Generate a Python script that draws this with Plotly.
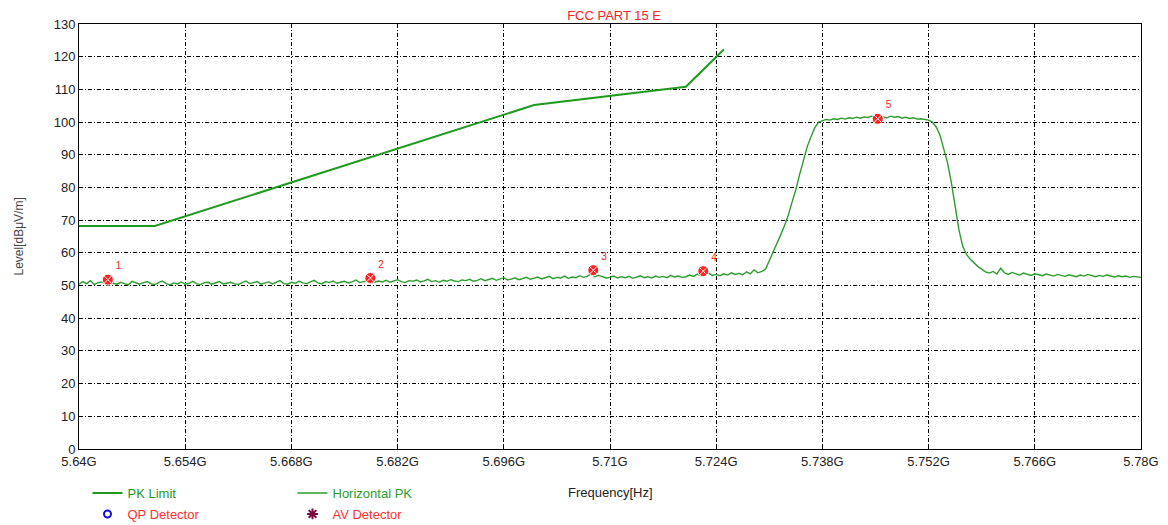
import plotly.graph_objects as go

# ---- data ----
limit_freq = [5.640, 5.650, 5.700, 5.720, 5.725]          # GHz
limit_level = [68.2, 68.2, 105.2, 110.8, 122.2]           # dBuV/m

sweep_start = 5.640
sweep_step = 0.0005
trace_level = [
    # 5.640
    50.4, 51.2, 50.6, 51.5, 50.3, 50.9, 51.1, 50.5, 51.8, 50.7, 50.4, 51.0, 50.6, 50.2, 51.3, 50.8, 50.4, 50.9, 51.2, 50.5,
    # 5.650
    50.3, 50.9, 51.4, 50.6, 50.2, 50.8, 50.5, 51.1, 50.4, 50.7, 51.3, 50.6, 50.3, 50.9, 51.0, 50.4, 50.7, 51.2, 50.5, 50.8,
    # 5.660
    51.0, 50.5, 50.3, 50.9, 51.4, 50.6, 50.8, 51.2, 50.4, 50.7, 51.1, 50.5, 50.9, 51.5, 50.6, 50.4, 51.0, 50.7, 51.3, 50.8,
    # 5.670
    50.6, 51.1, 51.6, 50.8, 50.5, 51.2, 50.9, 51.4, 50.7, 51.0, 51.3, 50.8, 51.1, 51.7, 50.9, 51.2, 51.5, 50.8, 51.0, 51.4,
    # 5.680
    51.1, 51.6, 51.0, 51.3, 51.8, 51.2, 50.9, 51.5, 51.3, 51.7, 51.1, 51.4, 51.9, 51.2, 51.5, 51.0, 51.6, 51.3, 51.8, 51.4,
    # 5.690
    51.2, 51.7, 51.5, 51.9, 51.3, 51.6, 52.1, 51.5, 51.8, 52.2, 51.6, 51.9, 52.4, 51.7, 52.0, 52.3, 51.8, 52.1, 52.5, 51.9,
    # 5.700
    52.2, 52.6, 52.0, 52.4, 52.8, 52.1, 52.5, 52.3, 52.9, 52.2, 52.6, 52.4, 53.0, 52.5, 52.8, 53.6, 52.7, 53.1, 52.6, 52.3,
    # 5.710
    52.5, 52.9, 52.3, 52.7, 52.4, 52.8, 52.2, 52.6, 53.0, 52.4, 52.7, 52.3, 52.9, 52.5, 52.8, 52.4, 53.1, 52.6, 52.9, 52.5,
    # 5.720
    52.7, 53.2, 52.8, 53.5, 53.0, 53.3, 53.8, 53.1, 53.4, 53.0, 53.6, 53.2, 53.9, 53.4, 53.7, 53.3, 54.2, 53.6, 54.8, 53.9,
    # 5.730
    54.3, 55.0, 57.5, 60.0, 62.8, 65.5, 68.3, 71.5, 75.5, 79.3, 84.0, 88.5, 92.5, 95.5, 98.3, 100.0, 100.5, 100.8, 100.6, 101.0,
    # 5.740
    100.8, 101.2, 100.9, 101.3, 101.1, 101.5, 101.2, 101.6, 101.4, 101.8, 101.5, 101.9, 101.6, 101.3, 101.8, 101.5, 101.7, 101.2, 101.5, 101.1,
    # 5.750
    101.3, 100.9, 101.0, 100.7, 100.6, 100.0, 98.5, 96.0, 92.0, 87.5, 81.5, 73.5, 67.0, 62.0, 59.5, 58.0, 56.8, 55.8, 55.0, 54.2,
    # 5.760
    53.8, 54.3, 53.5, 55.3, 53.9, 53.4, 54.0, 53.6, 53.2, 53.8, 53.4, 53.1, 53.6, 53.3, 53.0, 53.5, 53.2, 52.9, 53.4, 53.1,
    # 5.770
    52.8, 53.3, 53.0, 52.7, 53.2, 52.9, 53.4, 53.0, 52.7, 53.1, 52.8, 53.2, 52.9, 52.6, 53.0, 52.7, 52.9, 52.5, 52.8, 52.6,
    # 5.780
    52.5,
]
trace_freq = [round(sweep_start + i * sweep_step, 5) for i in range(len(trace_level))]

marker_freq = [5.6438, 5.6784, 5.7078, 5.7223, 5.7453]
marker_level = [51.8, 52.3, 54.7, 54.4, 101.0]
marker_labels = ["1", "2", "3", "4", "5"]

x_tickvals = [5.640, 5.654, 5.668, 5.682, 5.696, 5.710, 5.724, 5.738, 5.752, 5.766, 5.780]
x_ticktext = ["5.64G", "5.654G", "5.668G", "5.682G", "5.696G", "5.71G",
              "5.724G", "5.738G", "5.752G", "5.766G", "5.78G"]
y_tickvals = [0, 10, 20, 30, 40, 50, 60, 70, 80, 90, 100, 110, 120, 130]

# ---- figure ----
fig = go.Figure()

fig.add_trace(go.Scatter(
    x=limit_freq, y=limit_level, mode="lines",
    line=dict(color="#1e9a1e", width=2),
    name='<span style="color:#1e9a1e">PK Limit</span>', legend="legend"))

fig.add_trace(go.Scatter(
    x=trace_freq, y=trace_level, mode="lines",
    line=dict(color="#2c9c2c", width=1.4),
    name='<span style="color:#2c9c2c">Horizontal PK</span>', legend="legend"))

fig.add_trace(go.Scatter(
    x=marker_freq, y=marker_level, mode="markers+text",
    text=marker_labels, textposition="top right",
    textfont=dict(color="#ff2020", size=10, family="Liberation Sans, Arial"),
    marker=dict(symbol="circle-x", size=11, color="#ff2020",
                line=dict(color="white", width=1)),
    showlegend=False, hoverinfo="x+y"))

fig.add_trace(go.Scatter(
    x=[None], y=[None], mode="markers",
    marker=dict(symbol="circle-open", size=7, color="#1010e0", line=dict(width=2)),
    name='<span style="color:#ff3030">QP Detector</span>', legend="legend2"))

fig.add_trace(go.Scatter(
    x=[None], y=[None], mode="markers",
    marker=dict(symbol="asterisk", size=9, color="#7a0a40", line=dict(color="#7a0a40", width=2)),
    name='<span style="color:#ff3030">AV Detector</span>', legend="legend2"))

# the page body adds an 8px offset; the figure is sized to fit the window
grid_dash = "4px,2px,1px,2px"
fig.update_layout(
    width=1160, height=517,
    margin=dict(l=71, r=27, t=16, b=76, autoexpand=False),
    paper_bgcolor="white", plot_bgcolor="white",
    font=dict(family="Liberation Sans, Arial", size=13, color="#222222"),
    title=dict(text="FCC PART 15 E", x=0.5225, xanchor="center", y=0.9865, yanchor="middle",
               font=dict(color="#ff2020", size=13, family="Liberation Sans, Arial")),
    xaxis=dict(range=[5.64, 5.78], tickvals=x_tickvals, ticktext=x_ticktext,
               showgrid=True, gridcolor="#000000", griddash=grid_dash, gridwidth=1,
               showline=True, linecolor="black", linewidth=1, mirror=True,
               ticks="inside", ticklen=5, tickcolor="black", automargin=False,
               zeroline=False, tickfont=dict(size=13, color="#222222")),
    yaxis=dict(range=[0, 130], tickvals=y_tickvals,
               showgrid=True, gridcolor="#000000", griddash=grid_dash, gridwidth=1,
               showline=True, linecolor="black", linewidth=1, mirror=True,
               ticks="", zeroline=False, automargin=False,
               tickfont=dict(size=13, color="#222222")),
    legend=dict(orientation="h", x=0.008, xanchor="left", y=-0.1035, yanchor="middle",
                entrywidth=160, entrywidthmode="pixels", bgcolor="rgba(0,0,0,0)",
                font=dict(size=13), itemwidth=30, tracegroupgap=0),
    legend2=dict(orientation="h", x=0.008, xanchor="left", y=-0.153, yanchor="middle",
                 entrywidth=160, entrywidthmode="pixels", bgcolor="rgba(0,0,0,0)",
                 font=dict(size=13), itemwidth=30, tracegroupgap=0),
    annotations=[
        dict(text="Frequency[Hz]", xref="paper", yref="paper",
             x=0.5, y=-0.1035, xanchor="center", yanchor="middle",
             showarrow=False, font=dict(size=13, color="#222222")),
        dict(text="Level[dBμV/m]", xref="paper", yref="paper",
             x=-0.0574, y=0.5, xanchor="center", yanchor="middle", textangle=-90,
             showarrow=False, font=dict(size=12, color="#444444")),
    ],
)

fig.write_html("out.html")
